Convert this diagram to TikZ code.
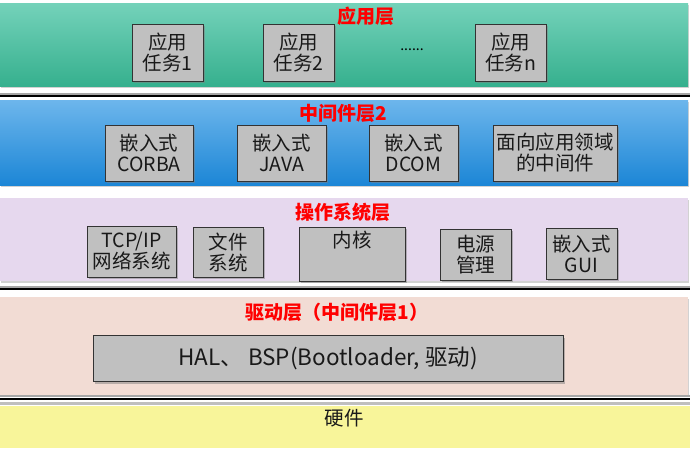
\documentclass[tikz,border=0pt]{standalone}
\usepackage{fontspec}
\setmainfont{Noto Sans CJK SC}
\usetikzlibrary{shadows}
\definecolor{grtop}{HTML}{74D2BA}
\definecolor{grbot}{HTML}{36B08E}
\definecolor{bltop}{HTML}{6DB6EC}
\definecolor{blbot}{HTML}{1C86D6}
\definecolor{purp}{HTML}{E6D8EE}
\definecolor{pinkb}{HTML}{F2DCD4}
\definecolor{yell}{HTML}{F8F59A}
\definecolor{boxg}{HTML}{C0C0C0}
\definecolor{titred}{HTML}{FF0000}
\tikzset{
  x=1pt, y=-1pt,
  band/.style={draw=none, drop shadow={shadow xshift=1pt, shadow yshift=-1.5pt, opacity=0.35}},
  sep/.style={line width=2pt, black},
  sepsh/.style={line width=2pt, black!35},
  item/.style={draw=black!80, line width=0.8pt, fill=boxg, inner sep=0pt, align=center,
    font=\fontsize{19.5}{21}\selectfont, text=black!90,
    drop shadow={shadow xshift=2pt, shadow yshift=-2pt, opacity=0.5}},
  ttl/.style={font=\fontsize{19}{21}\selectfont\bfseries, text=titred, inner sep=0pt},
}
\begin{document}
\begin{tikzpicture}
\useasboundingbox (0,0) rectangle (690,448);
\fill[white] (0,0) rectangle (690,448);
% bands
\shade[band, top color=grtop, bottom color=grbot] (0,3) rectangle (688,86);
\shade[band, top color=bltop, bottom color=blbot] (0,100) rectangle (688,185);
\fill[band, purp] (0,198) rectangle (688,281);
\fill[band, pinkb] (0,297) rectangle (688,395);
\fill[yell] (0,406) rectangle (690,448);
% separators
\draw[sepsh] (0,93.5) -- (690,93.5);
\draw[sep] (0,96) -- (690,96);
\draw[sepsh] (0,286.5) -- (690,286.5);
\draw[sep] (0,289) -- (690,289);
\draw[sepsh] (0,396) -- (690,396);
\draw[sep] (0,398.5) -- (690,398.5);
\draw[black!25, line width=3pt] (0,403) -- (690,403);
% app layer
\node[ttl] (tapp) at (366,16) {应用层};
\node[item, minimum width=71pt, minimum height=57pt] (a1) at (167.5,52.5) {应用\\任务1};
\node[item, minimum width=71pt, minimum height=57pt] (a2) at (298.5,52.5) {应用\\任务2};
\node[font=\fontsize{14}{16}\selectfont, inner sep=0pt] (dots) at (412,50) {......};
\node[item, minimum width=71pt, minimum height=57pt] (an) at (510.5,52.5) {应用\\任务n};
% middleware 2
\node[ttl] (tmid) at (343,113) {中间件层2};
\node[item, minimum width=88pt, minimum height=56pt] (m1) at (149,153) {嵌入式\\CORBA};
\node[item, minimum width=89pt, minimum height=56pt] (m2) at (281.5,153) {嵌入式\\JAVA};
\node[item, minimum width=89pt, minimum height=56pt] (m3) at (413.5,153) {嵌入式\\DCOM};
\node[item, minimum width=124pt, minimum height=56pt] (m4) at (555,153) {面向应用领域\\的中间件};
% OS
\node[ttl] (tos) at (343,212) {操作系统层};
\node[item, minimum width=89pt, minimum height=51pt] (o1) at (131.5,251.5) {TCP/IP\\网络系统};
\node[item, minimum width=70pt, minimum height=50pt] (o2) at (228,252) {文件\\系统};
\node[item, minimum width=106pt, minimum height=54pt, anchor=north] (o3) at (352,227) {};
\node[font=\fontsize{19.5}{21}\selectfont, inner sep=0pt, text=black!90] (o3t) at (352,240) {内核};
\node[item, minimum width=71pt, minimum height=51pt] (o4) at (475.5,254.5) {电源\\管理};
\node[item, minimum width=71pt, minimum height=51pt] (o5) at (581.5,253.5) {嵌入式\\GUI};
% driver
\node[ttl] (tdrv) at (337,312) {驱动层（中间件层1）};
\node[item, minimum width=470pt, minimum height=46pt, font=\fontsize{22.5}{24}\selectfont] (hal) at (328,358.5) {HAL、 BSP(Bootloader, 驱动)};
% hardware
\node[font=\fontsize{19.5}{21}\selectfont, inner sep=0pt, text=black!90] (hw) at (344,418) {硬件};
\end{tikzpicture}
\end{document}
